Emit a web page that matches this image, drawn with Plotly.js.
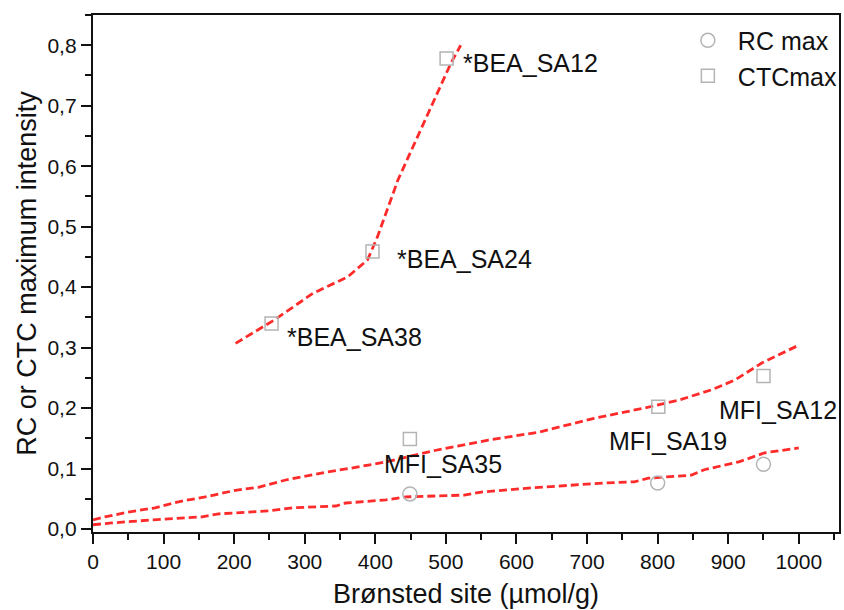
<!DOCTYPE html>
<html>
<head>
<meta charset="utf-8">
<script src="https://cdn.plot.ly/plotly-3.0.1.min.js"></script>
<style>html,body{margin:0;padding:0;background:#fff;}#chart{width:844px;height:610px;}</style>
</head>
<body>
<div id="chart"></div>
<script>
// ---- data ----
const ctcX = [501, 396, 253, 449, 801, 950];
const ctcY = [0.778, 0.459, 0.340, 0.149, 0.202, 0.253];
const rcX = [449, 800, 950];
const rcY = [0.058, 0.076, 0.107];

const sampleNames = ["*BEA_SA12", "*BEA_SA24", "*BEA_SA38", "MFI_SA35", "MFI_SA19", "MFI_SA12"];

const beaTrendX = [202, 256, 312, 361, 389, 403, 432, 464, 489, 507, 521];
const beaTrendY = [0.307, 0.345, 0.390, 0.417, 0.445, 0.483, 0.577, 0.660, 0.726, 0.770, 0.800];

const mfiCtcTrendX = [0, 17, 50, 88, 121, 159, 202, 234, 273, 330, 368, 415, 489, 560, 631, 710, 781, 830, 876, 909, 947, 1000];
const mfiCtcTrendY = [0.015, 0.020, 0.028, 0.035, 0.045, 0.053, 0.064, 0.069, 0.081, 0.094, 0.101, 0.111, 0.131, 0.147, 0.160, 0.183, 0.200, 0.213, 0.230, 0.246, 0.274, 0.304];

const mfiRcTrendX = [0, 27, 84, 155, 178, 249, 283, 344, 358, 415, 443, 526, 550, 621, 724, 767, 787, 848, 866, 915, 952, 1000];
const mfiRcTrendY = [0.007, 0.010, 0.015, 0.020, 0.025, 0.030, 0.035, 0.038, 0.043, 0.048, 0.053, 0.056, 0.061, 0.068, 0.076, 0.078, 0.084, 0.089, 0.098, 0.111, 0.126, 0.134];

// ---- styles ----
const FONT = 'Liberation Sans, Arial, sans-serif';
const lineStyle = {color: '#ff2b2b', width: 2.8, dash: '8px,4px'};
const markerGray = '#b4b4b4';
// label pixel offsets relative to their CTC point (layout only)
const labelShift = [[14, -4], [23, -8], [13, -14], [-28, -25], [-51, -34], [-46, -34]];

const traces = [
  {x: beaTrendX, y: beaTrendY, mode: 'lines', line: lineStyle, showlegend: false, hoverinfo: 'skip'},
  {x: mfiCtcTrendX, y: mfiCtcTrendY, mode: 'lines', line: lineStyle, showlegend: false, hoverinfo: 'skip'},
  {x: mfiRcTrendX, y: mfiRcTrendY, mode: 'lines', line: lineStyle, showlegend: false, hoverinfo: 'skip'},
  {x: rcX, y: rcY, mode: 'markers', name: 'RC max',
   marker: {symbol: 'circle-open', size: 14, color: markerGray, line: {width: 1.5, color: markerGray}}},
  {x: ctcX, y: ctcY, mode: 'markers', name: 'CTCmax',
   marker: {symbol: 'square-open', size: 13, color: markerGray, line: {width: 1.5, color: markerGray}}}
];

const annotations = sampleNames.map((t, i) => ({
  x: ctcX[i], y: ctcY[i], xref: 'x', yref: 'y', text: t, showarrow: false,
  xanchor: 'left', yanchor: 'middle', xshift: labelShift[i][0], yshift: labelShift[i][1],
  font: {family: FONT, size: 25, color: '#111'}
}));

const axisCommon = {
  showline: true, linecolor: '#111', linewidth: 2.2, mirror: true,
  ticks: 'outside', ticklen: 10, tickwidth: 2, tickcolor: '#111',
  showgrid: false, zeroline: false, automargin: false,
  tickfont: {family: FONT, size: 21, color: '#111'}
};

const layout = {
  width: 844, height: 610,
  margin: {l: 93, r: 5, t: 15, b: 78, autoexpand: false},
  paper_bgcolor: '#fff', plot_bgcolor: '#fff',
  separators: ', ',
  font: {family: FONT, color: '#111'},
  xaxis: Object.assign({}, axisCommon, {
    range: [0, 1057], tickvals: [0,100,200,300,400,500,600,700,800,900,1000],
    minor: {ticks: 'outside', dtick: 50, ticklen: 6, tickwidth: 2, tickcolor: '#111'},
    title: {text: 'Brønsted site (µmol/g)', font: {family: FONT, size: 27, color: '#111'}, standoff: 12}
  }),
  yaxis: Object.assign({}, axisCommon, {
    range: [-0.005, 0.85], dtick: 0.1, tick0: 0, tickformat: '.1f',
    minor: {ticks: 'outside', dtick: 0.05, ticklen: 6, tickwidth: 2, tickcolor: '#111'},
    title: {text: 'RC or CTC maximum intensity', font: {family: FONT, size: 27, color: '#111'}, standoff: 3}
  }),
  legend: {x: 0.784, y: 0.995, xanchor: 'left', yanchor: 'top', bgcolor: 'rgba(0,0,0,0)',
    font: {family: FONT, size: 25, color: '#111'}, itemwidth: 50, tracegroupgap: 0},
  annotations: annotations,
  showlegend: true
};

Plotly.newPlot('chart', traces, layout, {staticPlot: true});
</script>
</body>
</html>
